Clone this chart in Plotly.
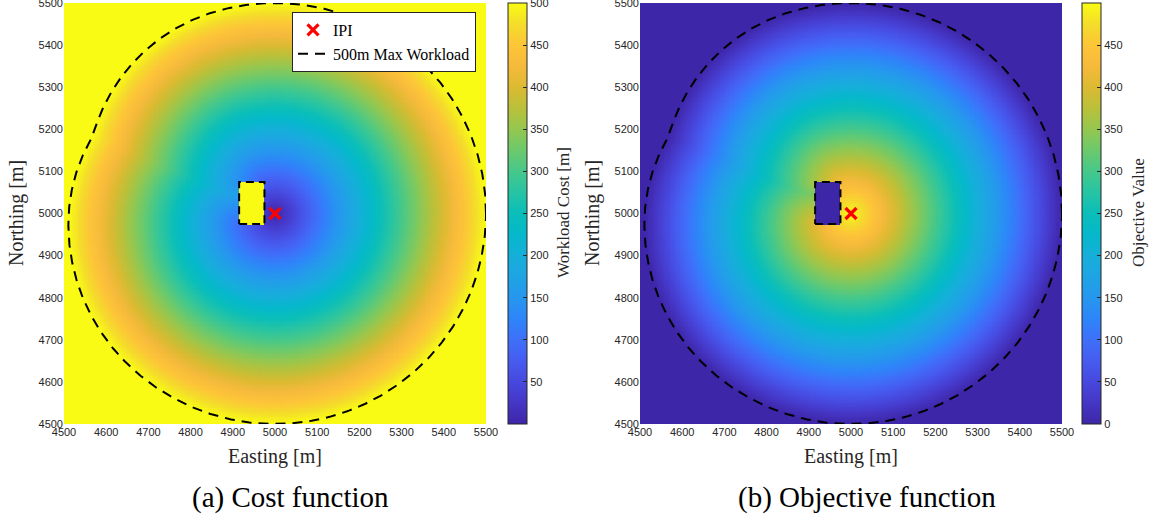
import numpy as np
import plotly.graph_objects as go

# ---------------- data ----------------
IPI_E = [5000.0]            # IPI easting
IPI_N = [5000.0]            # IPI northing
OBST_E = [4915.0, 4975.0]   # obstacle easting extent
OBST_N = [4975.0, 5075.0]   # obstacle northing extent
MAX_WORKLOAD = 500.0        # max workload radius [m]
GRID_STEP = 4.0             # grid resolution [m]
AXIS_TICKS = [4500, 4600, 4700, 4800, 4900, 5000, 5100, 5200, 5300, 5400, 5500]
COST_TICKS = [50, 100, 150, 200, 250, 300, 350, 400, 450, 500]
OBJ_TICKS = [0, 50, 100, 150, 200, 250, 300, 350, 400, 450]

W, H = 1153, 520

# parula-like colour scale
PARULA = [
    (0.00, (62, 38, 168)), (0.05, (69, 54, 197)), (0.10, (71, 72, 222)),
    (0.15, (70, 92, 240)), (0.20, (62, 112, 250)), (0.25, (46, 133, 249)),
    (0.30, (38, 151, 238)), (0.35, (30, 164, 228)), (0.40, (21, 175, 217)),
    (0.45, (5, 184, 203)), (0.50, (10, 190, 185)), (0.55, (38, 196, 164)),
    (0.60, (70, 200, 138)), (0.65, (108, 201, 108)), (0.70, (148, 199, 80)),
    (0.75, (186, 192, 58)), (0.80, (220, 186, 50)), (0.85, (246, 186, 59)),
    (0.90, (253, 197, 56)), (0.95, (244, 221, 42)), (1.00, (249, 251, 20)),
]
COLORSCALE = [[p, "rgb(%d,%d,%d)" % c] for p, c in PARULA]

# ---------------- geodesic workload field ----------------
ex0, ex1 = OBST_E
ny0, ny1 = OBST_N


def blocked(px, py, qx, qy):
    eps = 1e-6
    px = np.asarray(px, float)
    py = np.asarray(py, float)
    dx = qx - px
    dy = qy - py
    tmin = np.zeros_like(px)
    tmax = np.ones_like(px)
    for d, p, lo, hi in ((dx, px, ex0 + eps, ex1 - eps), (dy, py, ny0 + eps, ny1 - eps)):
        par = d == 0
        dd = np.where(par, 1.0, d)
        t1 = (lo - p) / dd
        t2 = (hi - p) / dd
        ta = np.where(par, -np.inf, np.minimum(t1, t2))
        tb = np.where(par, np.inf, np.maximum(t1, t2))
        outside = par & ((p < lo) | (p > hi))
        tmin = np.maximum(tmin, ta)
        tmax = np.minimum(tmax, tb)
        tmax = np.where(outside, -1.0, tmax)
    return tmin < tmax


nodes = [(IPI_E[0], IPI_N[0]), (ex0, ny0), (ex1, ny0), (ex1, ny1), (ex0, ny1)]
ndist = [0.0] + [np.inf] * 4
for _ in range(6):
    for i, (ax_, ay_) in enumerate(nodes):
        for j, (bx_, by_) in enumerate(nodes):
            if i == j:
                continue
            if not blocked(np.array([ax_]), np.array([ay_]), bx_, by_)[0]:
                ndist[j] = min(ndist[j], ndist[i] + np.hypot(bx_ - ax_, by_ - ay_))


def geo(px, py):
    res = np.full(np.shape(px), np.inf)
    for (nx_, ny_), dn in zip(nodes, ndist):
        d = dn + np.hypot(px - nx_, py - ny_)
        ok = ~blocked(px, py, nx_, ny_)
        res = np.where(ok, np.minimum(res, d), res)
    return res


xs = np.arange(AXIS_TICKS[0], AXIS_TICKS[-1] + GRID_STEP / 2, GRID_STEP)
ys = np.arange(AXIS_TICKS[0], AXIS_TICKS[-1] + GRID_STEP / 2, GRID_STEP)
X, Y = np.meshgrid(xs, ys)
inside = (X >= ex0) & (X <= ex1) & (Y >= ny0) & (Y <= ny1)
G = geo(X, Y)
cost = np.minimum(G, MAX_WORKLOAD)
cost[inside] = MAX_WORKLOAD
objective = MAX_WORKLOAD - cost
cost = np.round(cost, 1)
objective = np.round(objective, 1)

# 500 m contour by bisection along rays
th = np.linspace(0, 2 * np.pi, 721)
ux, uy = np.cos(th), np.sin(th)
lo = np.zeros_like(th)
hi = np.full_like(th, 700.0)
for _ in range(40):
    mid = 0.5 * (lo + hi)
    g = geo(IPI_E[0] + mid * ux, IPI_N[0] + mid * uy)
    below = g < MAX_WORKLOAD
    lo = np.where(below, mid, lo)
    hi = np.where(below, hi, mid)
rr = 0.5 * (lo + hi)
cont_x = IPI_E[0] + rr * ux
cont_y = IPI_N[0] + rr * uy

rect_x = [OBST_E[0], OBST_E[1], OBST_E[1], OBST_E[0], OBST_E[0]]
rect_y = [OBST_N[0], OBST_N[0], OBST_N[1], OBST_N[1], OBST_N[0]]

# ---------------- figure ----------------
fig = go.Figure()
DASH = "10px,7px"
TICKC = "#262626"
SANS = "Liberation Sans, Arial, sans-serif"
SERIF = "Liberation Serif, Times New Roman, serif"

for k, (z, ca) in enumerate([(cost, "coloraxis"), (objective, "coloraxis2")]):
    xa = "x" if k == 0 else "x2"
    ya = "y" if k == 0 else "y2"
    fig.add_trace(go.Heatmap(x=xs, y=ys, z=z, coloraxis=ca, xaxis=xa, yaxis=ya,
                             hoverinfo="skip"))
    fig.add_trace(go.Scatter(x=rect_x, y=rect_y, mode="lines", xaxis=xa, yaxis=ya,
                             line=dict(color="black", width=2, dash="8px,5px"),
                             showlegend=False, hoverinfo="skip"))
    fig.add_trace(go.Scatter(x=IPI_E, y=IPI_N, mode="markers", name="IPI",
                             xaxis=xa, yaxis=ya, showlegend=(k == 0),
                             marker=dict(symbol="x-thin", size=11, color="red",
                                         line=dict(color="red", width=3.2))))
    fig.add_trace(go.Scatter(x=cont_x, y=cont_y, mode="lines", name="500m Max Workload",
                             xaxis=xa, yaxis=ya, showlegend=(k == 0),
                             line=dict(color="black", width=2, dash=DASH),
                             hoverinfo="skip"))

x1d = [64 / W, 486 / W]
x2d = [640 / W, 1062 / W]
yd = [1 - 424 / H, 1 - 3 / H]
axcommon = dict(range=[AXIS_TICKS[0], AXIS_TICKS[-1]], tickvals=AXIS_TICKS,
                showgrid=False, zeroline=False, showline=False, ticks="",
                automargin=False, ticklabeloverflow="allow",
                tickfont=dict(family=SANS, size=11, color=TICKC))


def cbar(xpx, ticks):
    return dict(x=xpx / W, xanchor="left", y=1 - 424 / H, yanchor="bottom",
                len=421 / H, lenmode="fraction", thickness=19, thicknessmode="pixels",
                xpad=0, ypad=0, outlinewidth=1, outlinecolor=TICKC,
                ticks="inside", ticklen=4, tickcolor=TICKC, tickvals=ticks,
                ticklabeloverflow="allow",
                tickfont=dict(family=SANS, size=11, color=TICKC))


fig.update_layout(
    template="none",
    width=W, height=H, margin=dict(l=0, r=0, t=0, b=0, autoexpand=False),
    paper_bgcolor="white", plot_bgcolor="white",
    xaxis=dict(domain=x1d, anchor="y", **axcommon),
    yaxis=dict(domain=yd, anchor="x", **axcommon),
    xaxis2=dict(domain=x2d, anchor="y2", **axcommon),
    yaxis2=dict(domain=yd, anchor="x2", **axcommon),
    coloraxis=dict(colorscale=COLORSCALE, cmin=0, cmax=MAX_WORKLOAD,
                   colorbar=cbar(508, COST_TICKS)),
    coloraxis2=dict(colorscale=COLORSCALE, cmin=0, cmax=MAX_WORKLOAD,
                    colorbar=cbar(1082, OBJ_TICKS)),
    legend=dict(x=476 / W, xanchor="right", y=1 - 12 / H, yanchor="top",
                bgcolor="white", bordercolor=TICKC, borderwidth=1,
                font=dict(family=SERIF, size=16, color="black"),
                tracegroupgap=0),
    showlegend=True,
)

ann = [
    ("Northing [m]", 16, 213, -90, 20, TICKC),
    ("Easting [m]", 275, 456, 0, 20, TICKC),
    ("Workload Cost [m]", 563, 213, -90, 17, TICKC),
    ("(a) Cost function", 290, 497, 0, 29, "black"),
    ("Northing [m]", 592, 213, -90, 20, TICKC),
    ("Easting [m]", 851, 456, 0, 20, TICKC),
    ("Objective Value", 1138, 213, -90, 17, TICKC),
    ("(b) Objective function", 867, 497, 0, 29, "black"),
]
for text, xp, yp, ang, fs, col in ann:
    fig.add_annotation(text=text, x=xp / W, y=1 - yp / H, xref="paper", yref="paper",
                       showarrow=False, textangle=ang, xanchor="center", yanchor="middle",
                       font=dict(family=SERIF, size=fs, color=col))

fig.write_html("out.html")
